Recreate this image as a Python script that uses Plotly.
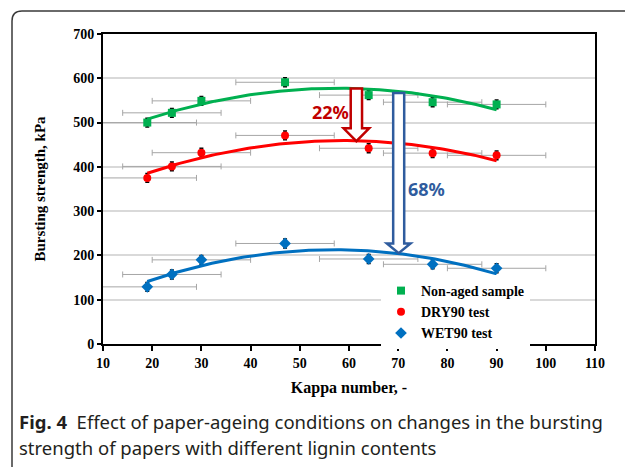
import numpy as np
import plotly.graph_objects as go

# ---------------- data ----------------
kappa = [19, 24, 30, 47, 64, 77, 90]
non_aged = [500, 522, 549, 591, 562, 546, 541]
dry90 = [375, 401, 432, 471, 442, 431, 426]
wet90 = [129, 157, 190, 227, 192, 180, 171]
kappa_err = [10, 10, 10, 10, 10, 10, 10]
non_aged_err = [10, 10, 10, 10, 10, 10, 10]
dry90_err = [10, 10, 10, 10, 10, 10, 10]
wet90_err = [10, 10, 10, 10, 10, 10, 10]
x_ticks = [10, 20, 30, 40, 50, 60, 70, 80, 90, 100, 110]
y_ticks = [0, 100, 200, 300, 400, 500, 600, 700]

series = [
    ("Non-aged sample", non_aged, non_aged_err, "#00B050", "square", 8),
    ("DRY90 test", dry90, dry90_err, "#FF0000", "circle", 8),
    ("WET90 test", wet90, wet90_err, "#0070C0", "diamond", 9),
]

# plot-area geometry in pixels
W_FIG, H_FIG = 625, 467
L, R, T, B = 103, 595, 34, 344
PW, PH = R - L, B - T


def fx(px):
    return (px - L) / PW


def fy(py):
    return (B - py) / PH


SERIF = "Liberation Serif"
SANS = "Noto Sans"

fig = go.Figure()

# markers with error bars
for name, vals, err, color, sym, size in series:
    fig.add_trace(go.Scatter(
        x=kappa, y=vals, mode="markers", name=name,
        marker=dict(color=color, symbol=sym, size=size),
        error_x=dict(type="data", array=kappa_err, color="#A6A6A6", thickness=1, width=3),
        error_y=dict(type="data", array=err, color="#000000", thickness=1.5, width=2),
    ))

# second-order polynomial trendlines (fitted to the data)
xfit = np.linspace(min(kappa), max(kappa), 120)
for name, vals, err, color, sym, size in series:
    coef = np.polyfit(kappa, vals, 2)
    fig.add_trace(go.Scatter(
        x=xfit, y=np.polyval(coef, xfit), mode="lines", showlegend=False,
        line=dict(color=color, width=3), hoverinfo="skip",
    ))


def arrow_path(cx, hw, hh, ytop, ybase, ytip):
    pts = [(cx - hw, ytop), (cx + hw, ytop), (cx + hw, ybase), (cx + hh, ybase),
           (cx, ytip), (cx - hh, ybase), (cx - hw, ybase)]
    return "M " + " L ".join(f"{a},{b}" for a, b in pts) + " Z"


shapes = [
    dict(type="path", xref="x", yref="y",
         path=arrow_path(61.5, 1.15, 2.6, 577, 487, 458),
         line=dict(color="#C00000", width=2.5), fillcolor="white", layer="above"),
    dict(type="path", xref="x", yref="y",
         path=arrow_path(70.1, 1.12, 2.4, 567, 227, 205),
         line=dict(color="#2F5C9E", width=2.5), fillcolor="white", layer="above"),
]

# rounded outer frame
x0, y0, x1, y1, r = 12, 11, 660, 474, 10
frame = (f"M {fx(x0)},{fy(y1)} L {fx(x0)},{fy(y0 + r)} "
         f"Q {fx(x0)},{fy(y0)} {fx(x0 + r)},{fy(y0)} L {fx(x1)},{fy(y0)}")
shapes.append(dict(type="path", xref="paper", yref="paper", path=frame,
                   line=dict(color="#3a3a3a", width=1.5)))

annotations = [
    dict(x=56.3, y=524, xref="x", yref="y", text="<b>22%</b>", showarrow=False,
         font=dict(family=SANS, size=18, color="#C00000")),
    dict(x=75.8, y=351, xref="x", yref="y", text="<b>68%</b>", showarrow=False,
         font=dict(family=SANS, size=18, color="#2F5C9E")),
    dict(x=fx(17), y=fy(421), xref="paper", yref="paper", xanchor="left", yanchor="middle",
         text="<b>Fig. 4</b>  Effect of paper-ageing conditions on changes in the bursting",
         showarrow=False, font=dict(family=SANS, size=18.5, color="#231f20")),
    dict(x=fx(17), y=fy(447), xref="paper", yref="paper", xanchor="left", yanchor="middle",
         text="strength of papers with different lignin contents",
         showarrow=False, font=dict(family=SANS, size=18.5, color="#231f20")),
]

axis_font = dict(family=SERIF, size=14, color="#000000", weight="bold")

fig.update_layout(
    width=W_FIG, height=H_FIG,
    margin=dict(l=L, r=W_FIG - R, t=T, b=H_FIG - B, autoexpand=False),
    paper_bgcolor="white", plot_bgcolor="white",
    showlegend=True,
    legend=dict(x=fx(381), y=fy(275), xanchor="left", yanchor="top",
                bgcolor="white", borderwidth=0, tracegroupgap=0,
                font=dict(family=SERIF, size=14, color="#000000", weight="bold")),
    xaxis=dict(range=[10, 110], tickvals=x_ticks, ticktext=[str(v) for v in x_ticks],
               showgrid=False, zeroline=False, showline=True, linecolor="black",
               linewidth=2, mirror=True, ticks="outside", ticklen=5, tickwidth=1.5,
               tickcolor="black", tickfont=axis_font,
               title=dict(text="Kappa number, -", standoff=12,
                          font=dict(family=SERIF, size=16, color="#000000", weight="bold"))),
    yaxis=dict(range=[0, 700], tickvals=y_ticks, ticktext=[str(v) for v in y_ticks],
               showgrid=True, gridcolor="#D9D9D9", gridwidth=2, zeroline=False,
               showline=True, linecolor="black", linewidth=2, mirror=True,
               ticks="outside", ticklen=4, tickwidth=1.5, tickcolor="black",
               tickfont=axis_font,
               title=dict(text="Bursting strength, kPa", standoff=24,
                          font=dict(family=SERIF, size=15, color="#000000", weight="bold"))),
    shapes=shapes,
    annotations=annotations,
)

fig.write_html("out.html", config={"displayModeBar": False},
               post_script="document.body.style.margin='0px';")
